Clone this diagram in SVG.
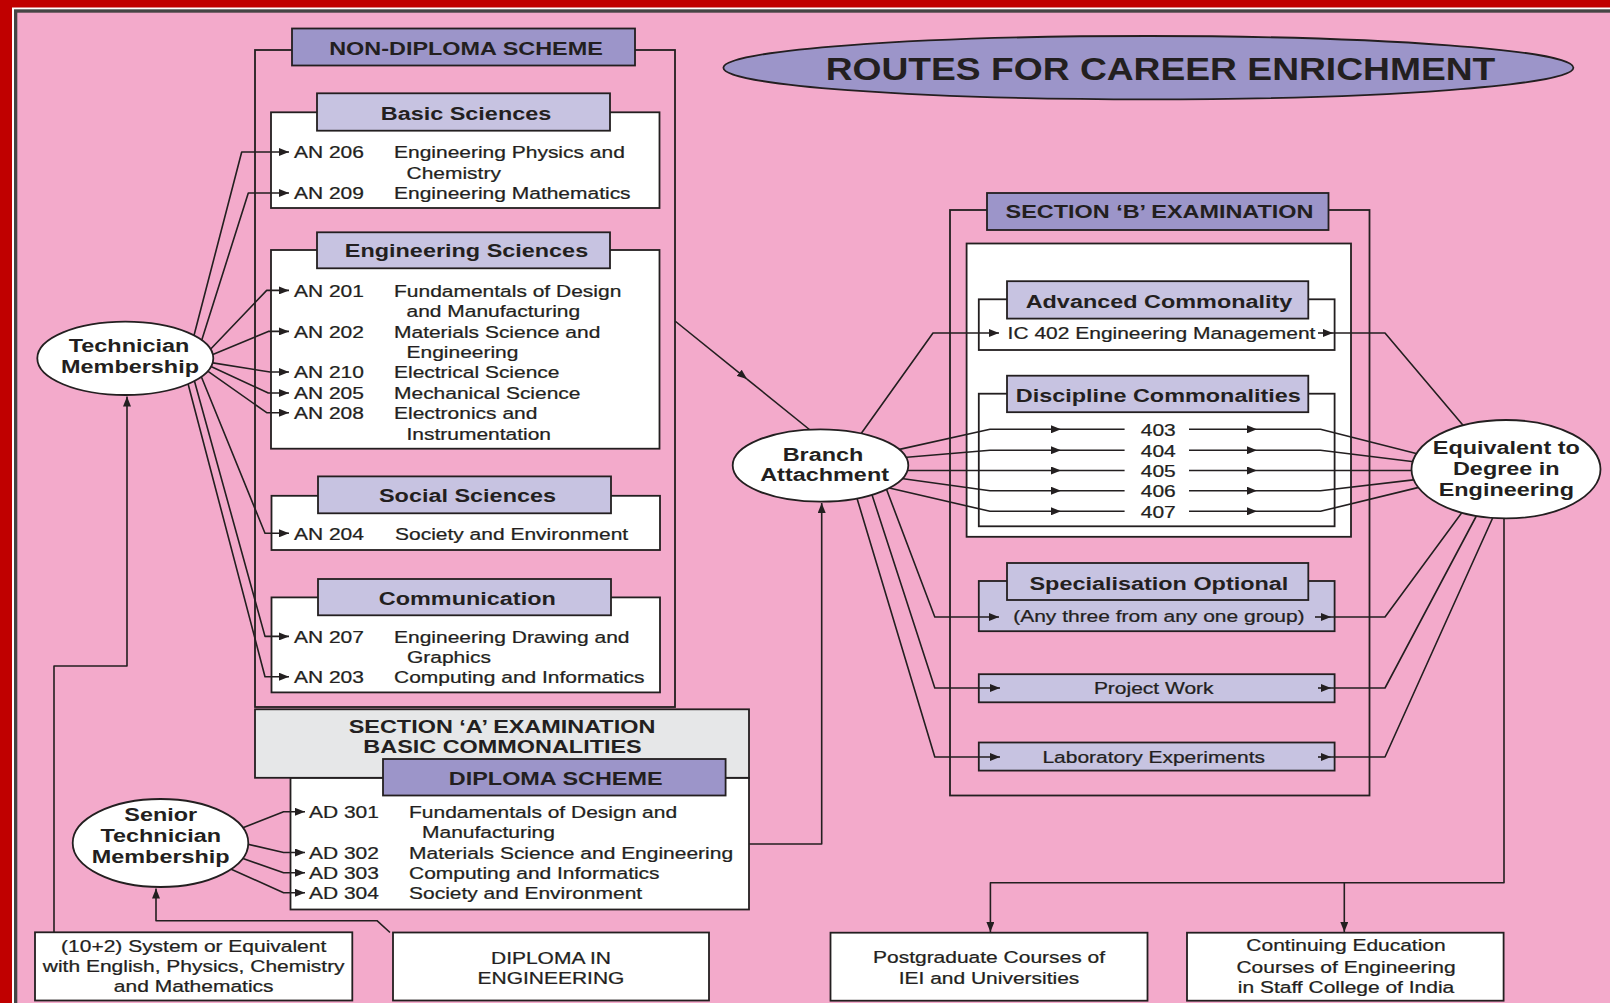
<svg xmlns="http://www.w3.org/2000/svg" width="1610" height="1003" viewBox="0 0 1610 1003">
<style>
.t{font-family:"Liberation Sans",Arial,sans-serif;fill:#231F20}
.r{font-size:17.2px;stroke:#231F20;stroke-width:0.25}
.b{font-size:19.2px;font-weight:bold}
.ti{font-size:30.5px;font-weight:bold}
.m{text-anchor:middle}
.box{fill:#fff;stroke:#231F20;stroke-width:1.8}
.hd{fill:#9C95C9;stroke:#231F20;stroke-width:1.8}
.sh{fill:#C7C3E1;stroke:#231F20;stroke-width:1.8}
.gr{fill:#E6E7E8;stroke:#231F20;stroke-width:1.8}
.ol{fill:none;stroke:#231F20;stroke-width:1.8}
.c{fill:none;stroke:#231F20;stroke-width:1.6;stroke-linejoin:round}
.ca{fill:none;stroke:#231F20;stroke-width:1.6;stroke-linejoin:round;marker-end:url(#ah)}
.el{fill:#fff;stroke:#231F20;stroke-width:1.8}
</style>
<defs>
<marker id="ah" viewBox="0 0 10 8" refX="10" refY="4" markerWidth="10" markerHeight="8" orient="auto" markerUnits="userSpaceOnUse">
<path d="M0,0 L10,4 L0,8 z" fill="#231F20"/>
</marker>
</defs>
<g id="frame">
<rect x="0" y="0" width="1610" height="1003" fill="#C00000"/>
<rect x="12" y="7.5" width="1600" height="1000" fill="#FFFFFF"/>
<rect x="14" y="9.3" width="1600" height="1000" fill="#454545"/>
<rect x="17.3" y="12.7" width="1600" height="1000" fill="#F3AACB"/>
</g>

<g id="non-diploma">
<rect class="ol" x="255" y="50" width="420" height="657"/>
<rect class="hd" x="292" y="28.5" width="343" height="37"/>
<text class="t b m" transform="translate(466 55) scale(1.22 1)">NON-DIPLOMA SCHEME</text>
</g>

<g id="basic-sciences">
<rect class="box" x="271" y="112.3" width="388.5" height="95.7"/>
<rect class="sh" x="317" y="93.3" width="293" height="37.4"/>
<text class="t b m" transform="translate(466 120) scale(1.22 1)">Basic Sciences</text>
<text class="t r" transform="translate(294 158.3) scale(1.22 1)">AN 206</text>
<text class="t r" transform="translate(394 158.3) scale(1.22 1)">Engineering Physics and</text>
<text class="t r" transform="translate(406.5 178.8) scale(1.22 1)">Chemistry</text>
<text class="t r" transform="translate(294 199.3) scale(1.22 1)">AN 209</text>
<text class="t r" transform="translate(394 199.3) scale(1.22 1)">Engineering Mathematics</text>
</g>

<g id="engineering-sciences">
<rect class="box" x="271" y="250" width="388.5" height="198.7"/>
<rect class="sh" x="317" y="232.3" width="293" height="36"/>
<text class="t b m" transform="translate(466.5 256.7) scale(1.22 1)">Engineering Sciences</text>
<text class="t r" transform="translate(294 296.7) scale(1.22 1)">AN 201</text>
<text class="t r" transform="translate(394 296.7) scale(1.22 1)">Fundamentals of Design</text>
<text class="t r" transform="translate(406.5 317) scale(1.22 1)">and Manufacturing</text>
<text class="t r" transform="translate(294 337.7) scale(1.22 1)">AN 202</text>
<text class="t r" transform="translate(394 337.7) scale(1.22 1)">Materials Science and</text>
<text class="t r" transform="translate(406.5 358.3) scale(1.22 1)">Engineering</text>
<text class="t r" transform="translate(294 378.3) scale(1.22 1)">AN 210</text>
<text class="t r" transform="translate(394 378.3) scale(1.22 1)">Electrical Science</text>
<text class="t r" transform="translate(294 399.3) scale(1.22 1)">AN 205</text>
<text class="t r" transform="translate(394 399.3) scale(1.22 1)">Mechanical Science</text>
<text class="t r" transform="translate(294 419) scale(1.22 1)">AN 208</text>
<text class="t r" transform="translate(394 419) scale(1.22 1)">Electronics and</text>
<text class="t r" transform="translate(406.5 439.5) scale(1.22 1)">Instrumentation</text>
</g>

<g id="social-sciences">
<rect class="box" x="271.5" y="495.8" width="388.5" height="54.2"/>
<rect class="sh" x="318" y="476.4" width="293" height="36.9"/>
<text class="t b m" transform="translate(467.5 502.4) scale(1.22 1)">Social Sciences</text>
<text class="t r" transform="translate(294 539.6) scale(1.22 1)">AN 204</text>
<text class="t r" transform="translate(395 539.6) scale(1.22 1)">Society and Environment</text>
</g>

<g id="communication">
<rect class="box" x="271.5" y="597.4" width="388.5" height="95"/>
<rect class="sh" x="318" y="579" width="293" height="36.3"/>
<text class="t b m" transform="translate(467.3 605.4) scale(1.22 1)">Communication</text>
<text class="t r" transform="translate(294 642.7) scale(1.22 1)">AN 207</text>
<text class="t r" transform="translate(394 642.7) scale(1.22 1)">Engineering Drawing and</text>
<text class="t r" transform="translate(407 663.2) scale(1.22 1)">Graphics</text>
<text class="t r" transform="translate(294 683) scale(1.22 1)">AN 203</text>
<text class="t r" transform="translate(394 683) scale(1.22 1)">Computing and Informatics</text>
</g>

<g id="section-a">
<rect class="gr" x="255" y="709.3" width="494" height="68.5"/>
<text class="t b m" transform="translate(502 732.7) scale(1.22 1)">SECTION ‘A’ EXAMINATION</text>
<text class="t b m" transform="translate(502.5 752.7) scale(1.22 1)">BASIC COMMONALITIES</text>
</g>

<g id="diploma-scheme">
<rect class="box" x="290.5" y="778" width="458.5" height="131.5"/>
<rect class="hd" x="383" y="759" width="342.6" height="36.5"/>
<text class="t b m" transform="translate(555.7 785) scale(1.22 1)">DIPLOMA SCHEME</text>
<text class="t r" transform="translate(309 818.3) scale(1.22 1)">AD 301</text>
<text class="t r" transform="translate(409 818.3) scale(1.22 1)">Fundamentals of Design and</text>
<text class="t r" transform="translate(422 837.7) scale(1.22 1)">Manufacturing</text>
<text class="t r" transform="translate(309 859) scale(1.22 1)">AD 302</text>
<text class="t r" transform="translate(409 859) scale(1.22 1)">Materials Science and Engineering</text>
<text class="t r" transform="translate(309 879.3) scale(1.22 1)">AD 303</text>
<text class="t r" transform="translate(409 879.3) scale(1.22 1)">Computing and Informatics</text>
<text class="t r" transform="translate(309 899.3) scale(1.22 1)">AD 304</text>
<text class="t r" transform="translate(409 899.3) scale(1.22 1)">Society and Environment</text>
</g>

<g id="section-b">
<rect class="ol" x="950" y="210" width="419.5" height="585.5"/>
<rect class="hd" x="987" y="193" width="341.5" height="37"/>
<text class="t b m" transform="translate(1159.5 218.2) scale(1.22 1)">SECTION ‘B’ EXAMINATION</text>
<rect class="box" x="966.6" y="243.5" width="384.4" height="293.3"/>
</g>

<g id="advanced-commonality">
<rect class="box" x="978.8" y="299.3" width="355.8" height="50.7"/>
<rect class="sh" x="1007" y="281.2" width="301.3" height="37.4"/>
<text class="t b m" transform="translate(1159 307.8) scale(1.22 1)">Advanced Commonality</text>
<text class="t r m" transform="translate(1161.5 338.7) scale(1.22 1)">IC 402 Engineering Management</text>
</g>

<g id="discipline-commonalities">
<rect class="box" x="978.8" y="393.7" width="355.8" height="132.6"/>
<rect class="sh" x="1007" y="375.7" width="301.3" height="36.5"/>
<text class="t b m" transform="translate(1158.3 402.2) scale(1.22 1)">Discipline Commonalities</text>
<text class="t r m" transform="translate(1158.3 435.8) scale(1.22 1)">403</text>
<text class="t r m" transform="translate(1158.3 456.7) scale(1.22 1)">404</text>
<text class="t r m" transform="translate(1158.3 477) scale(1.22 1)">405</text>
<text class="t r m" transform="translate(1158.3 497.2) scale(1.22 1)">406</text>
<text class="t r m" transform="translate(1158.3 517.8) scale(1.22 1)">407</text>
</g>

<g id="specialisation">
<rect class="sh" x="978.8" y="581" width="355.8" height="50.2"/>
<rect class="sh" x="1007" y="563" width="301.3" height="37"/>
<text class="t b m" transform="translate(1158.9 589.8) scale(1.22 1)">Specialisation Optional</text>
<text class="t r m" transform="translate(1158.9 622) scale(1.22 1)">(Any three from any one group)</text>
</g>

<g id="project-work">
<rect class="sh" x="978.8" y="674.2" width="355.8" height="28.1"/>
<text class="t r m" transform="translate(1153.7 694.3) scale(1.22 1)">Project Work</text>
</g>

<g id="laboratory">
<rect class="sh" x="978.8" y="742.5" width="355.8" height="28.1"/>
<text class="t r m" transform="translate(1153.7 762.6) scale(1.22 1)">Laboratory Experiments</text>
</g>

<g id="ten-plus-two">
<rect class="box" x="35" y="932.3" width="317.3" height="68.2"/>
<text class="t r m" transform="translate(193.7 951.7) scale(1.22 1)">(10+2) System or Equivalent</text>
<text class="t r m" transform="translate(193.7 971.7) scale(1.22 1)">with English, Physics, Chemistry</text>
<text class="t r m" transform="translate(193.7 991.7) scale(1.22 1)">and Mathematics</text>
</g>

<g id="diploma-in-engineering">
<rect class="box" x="393" y="932.5" width="316" height="68"/>
<text class="t r m" transform="translate(551 964) scale(1.22 1)">DIPLOMA IN</text>
<text class="t r m" transform="translate(551 983.7) scale(1.22 1)">ENGINEERING</text>
</g>

<g id="postgraduate">
<rect class="box" x="830.5" y="932.7" width="317" height="68"/>
<text class="t r m" transform="translate(989 963.3) scale(1.22 1)">Postgraduate Courses of</text>
<text class="t r m" transform="translate(989 984) scale(1.22 1)">IEI and Universities</text>
</g>

<g id="continuing-education">
<rect class="box" x="1187" y="932.7" width="316.6" height="68"/>
<text class="t r m" transform="translate(1346 951) scale(1.22 1)">Continuing Education</text>
<text class="t r m" transform="translate(1346 972.7) scale(1.22 1)">Courses of Engineering</text>
<text class="t r m" transform="translate(1346 992.7) scale(1.22 1)">in Staff College of India</text>
</g>

<g id="connectors">
<path class="ca" d="M191.5,345 L241.7,152 L289,152"/>
<path class="ca" d="M200.2,345 L248.3,193 L289,193"/>
<path class="ca" d="M205,355 L266.7,290.4 L289,290.4"/>
<path class="ca" d="M205,357.7 L268.3,331.4 L289,331.4"/>
<path class="ca" d="M205,361.6 L270,372 L289,372"/>
<path class="ca" d="M204,363.3 L268.3,393 L289,393"/>
<path class="ca" d="M201,366.3 L266.7,412.7 L289,412.7"/>
<path class="ca" d="M199,371 L265,533.3 L289,533.3"/>
<path class="ca" d="M192.5,374 L265,636.4 L289,636.4"/>
<path class="ca" d="M186,376 L265,676.7 L289,676.7"/>
<path class="ca" d="M54,932.3 L54,666 L127,666 L127,396.5"/>
<path class="ca" d="M232,832 L283.6,811.8 L305,811.8"/>
<path class="ca" d="M238,842 L283.6,852.5 L305,852.5"/>
<path class="ca" d="M236,856 L283.6,872.8 L305,872.8"/>
<path class="ca" d="M224,866 L283.6,892.8 L305,892.8"/>
<path class="ca" d="M390,932.5 L377,920.7 L156,920.7 L156,888.5"/>
<path class="ca" d="M749,844 L821.7,844 L821.7,503"/>
<path class="ca" d="M675,321 L747,379.1"/>
<path class="c" d="M747,379.1 L815,434"/>
<path class="ca" d="M856,440.7 L933,333 L999,333"/>
<path class="ca" d="M1318,333 L1333,333"/>
<path class="c" d="M1333,333 L1385,333 L1470,433.5"/>
<path class="ca" d="M895,450.4 L990,429.3 L1061,429.3"/>
<path class="ca" d="M898,458 L990,450.2 L1061,450.2"/>
<path class="ca" d="M898,470.5 L1061,470.5"/>
<path class="ca" d="M898,478 L990,490.7 L1061,490.7"/>
<path class="ca" d="M885,487 L990,511.3 L1061,511.3"/>
<path class="c" d="M1061,429.3 L1124.6,429.3 M1061,450.2 L1124.6,450.2 M1061,470.5 L1124.6,470.5 M1061,490.7 L1124.6,490.7 M1061,511.3 L1124.6,511.3"/>
<path class="ca" d="M1189,429.3 L1257,429.3"/>
<path class="ca" d="M1189,450.2 L1257,450.2"/>
<path class="ca" d="M1189,470.5 L1257,470.5"/>
<path class="ca" d="M1189,490.7 L1257,490.7"/>
<path class="ca" d="M1189,511.3 L1257,511.3"/>
<path class="c" d="M1257,429.3 L1320.5,429.3 L1425,455.8"/>
<path class="c" d="M1257,450.2 L1320.5,450.2 L1424,463"/>
<path class="c" d="M1257,470.5 L1424,470.5"/>
<path class="c" d="M1257,490.7 L1320.5,490.7 L1424,478.6"/>
<path class="c" d="M1257,511.3 L1320.5,511.3 L1426,485.6"/>
<path class="ca" d="M883,480 L934.8,617 L999,617"/>
<path class="ca" d="M868,482.5 L934.8,688 L1000,688"/>
<path class="ca" d="M853,485 L934.8,757 L1000,757"/>
<path class="ca" d="M1315,617 L1331,617"/>
<path class="ca" d="M1318,688 L1331,688"/>
<path class="ca" d="M1318,757 L1331,757"/>
<path class="c" d="M1331,617 L1385,617 L1466,507"/>
<path class="c" d="M1331,688 L1385,688 L1479,511"/>
<path class="c" d="M1331,757 L1385,757 L1494,515"/>
<path class="ca" d="M1504,512 L1504,882.7 L990.4,882.7 L990.4,932"/>
<path class="ca" d="M1344.3,882.7 L1344.3,932"/>
</g>

<g id="technician-membership">
<ellipse class="el" cx="125.3" cy="358.3" rx="88" ry="36.7"/>
<text class="t b m" transform="translate(129 351.7) scale(1.22 1)">Technician</text>
<text class="t b m" transform="translate(130 373.3) scale(1.22 1)">Membership</text>
</g>

<g id="senior-technician-membership">
<ellipse class="el" cx="160.5" cy="843" rx="87.8" ry="44"/>
<text class="t b m" transform="translate(160.7 821) scale(1.22 1)">Senior</text>
<text class="t b m" transform="translate(160.7 842.3) scale(1.22 1)">Technician</text>
<text class="t b m" transform="translate(160.7 863) scale(1.22 1)">Membership</text>
</g>

<g id="branch-attachment">
<ellipse class="el" cx="820.5" cy="465.5" rx="87.8" ry="36.2"/>
<text class="t b m" transform="translate(823 461) scale(1.22 1)">Branch</text>
<text class="t b m" transform="translate(824.6 481) scale(1.22 1)">Attachment</text>
</g>

<g id="equivalent-degree">
<ellipse class="el" cx="1506" cy="469.2" rx="94.5" ry="49.2"/>
<text class="t b m" transform="translate(1506.3 454) scale(1.22 1)">Equivalent to</text>
<text class="t b m" transform="translate(1506.3 475) scale(1.22 1)">Degree in</text>
<text class="t b m" transform="translate(1506.3 496) scale(1.22 1)">Engineering</text>
</g>

<g id="title">
<ellipse cx="1148.4" cy="67.7" rx="425" ry="31.7" fill="#9C95C9" stroke="#231F20" stroke-width="1.8"/>
<text class="t ti m" transform="translate(1160.5 80) scale(1.22 1)">ROUTES FOR CAREER ENRICHMENT</text>
</g>
</svg>
